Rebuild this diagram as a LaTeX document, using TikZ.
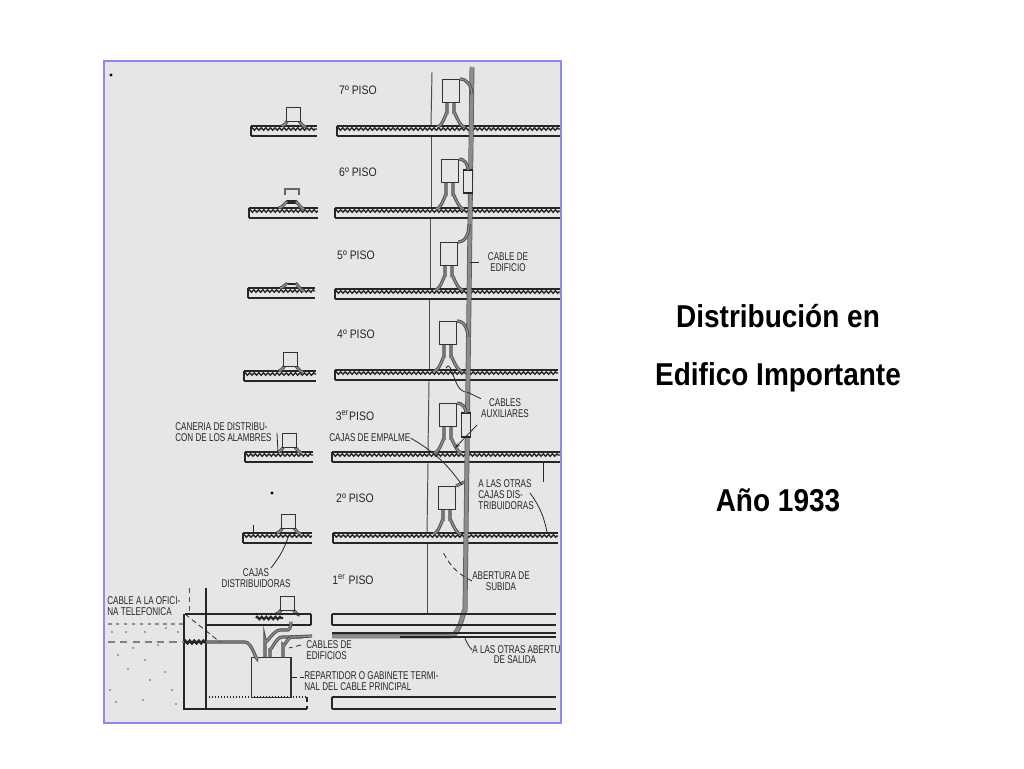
\documentclass[tikz,border=0pt]{standalone}
\usepackage{fontspec}
\usepackage{tikz}
\usetikzlibrary{arrows.meta,decorations.pathmorphing}
\newfontfamily\titlefont[FakeStretch=0.885]{Liberation Sans}
\newfontfamily\planfont[FakeStretch=0.72]{Liberation Sans}
\newfontfamily\pisofont[FakeStretch=0.85]{Liberation Sans}
\definecolor{platebg}{HTML}{E6E6E6}
\definecolor{plateedge}{HTML}{8C8CE6}
\tikzset{
  slabline/.style={black!85,line width=0.9pt},
  slabthin/.style={black!85,line width=0.7pt},
  slabhatch/.style={black!85,line width=0.8pt,decorate,decoration={zigzag,amplitude=0.7pt,segment length=2.6pt}},
  wall/.style={black!70,line width=0.55pt},
  conduit/.style={black!70,line width=0.5pt,double=black!45,double distance=0.8pt},
  riser/.style={black!65,line width=0.4pt,double=black!45,double distance=2pt},
  caja/.style={draw=black!80,fill=platebg,line width=0.6pt,inner sep=0pt,anchor=north west},
  leader/.style={black!85,line width=0.45pt},
  planlabel/.style={font={\planfont\fontsize{6.4}{6.3}\selectfont},text=black!85,inner sep=0pt,align=center},
  pisolabel/.style={font={\pisofont\fontsize{7}{7}\selectfont},text=black!85,inner sep=0pt},
  titlelabel/.style={font={\titlefont\bfseries\fontsize{18}{21}\selectfont},text=black,inner sep=0pt}
}
\newcommand{\slabat}[3]{
  \draw[slabline] (#1,#3) -- (#2,#3);
  \draw[slabhatch] (#1,#3+3) -- (#2,#3+3);
  \draw[slabthin] (#1,#3+10) -- (#2,#3+10);
  \draw[slabthin] (#1,#3) -- (#1,#3+10);
}
\begin{document}
\begin{tikzpicture}[x=0.02cm,y=-0.02cm]
\useasboundingbox (0,0) rectangle (1024,768);
\path[fill=white] (0,0) rectangle (1024,768);
\path[fill=platebg,draw=plateedge,line width=0.7pt] (104,61) rectangle (561,723);
% walls of the shaft
\draw[wall] (432,72) -- (431,125);
\draw[wall] (431,137) -- (431,207);
\draw[wall] (430,218) -- (430,289);
\draw[wall] (429,300) -- (429,370);
\draw[wall] (429,381) -- (428,451);
\draw[wall] (428,463) -- (427,533);
\draw[wall] (427,543) -- (427,614);
% slabs, right then left
\foreach \xa/\xb/\ys in {337/560/126,335/560/208,335/560/289,335/558/370,332/560/452,333/558/533}
  \slabat{\xa}{\xb}{\ys};
\foreach \xa/\xb/\ys in {251/317/126,249/318/208,248/315/288,244/316/371,245/313/452,243/312/533}
  \slabat{\xa}{\xb}{\ys};
% riser cable
\draw[riser] (472,67) -- (465,612) to[out=90,in=0] (450,636) -- (332,636);
% floors: junction box and conduits
\foreach \fl/\bx/\by/\sy in {7/442/79/126,6/441/159/208,5/440/242/289,4/439/321/370,3/439/403/452,2/438/486/533}{
  \draw[conduit] (\bx+5,\by+20) -- (\bx+5,\sy-12) to[out=90,in=0] (\bx-5,\sy+1);
  \draw[conduit] (\bx+12,\by+20) -- (\bx+12,\sy-12) to[out=90,in=180] (\bx+23,\sy+1);
  \node[caja,minimum width=0.34cm,minimum height=0.46cm] (caja\fl) at (\bx,\by) {};
}
\node[caja,minimum width=0.18cm,minimum height=0.44cm] (empalme6) at (463,170) {};
\node[caja,minimum width=0.18cm,minimum height=0.46cm] (empalme3) at (461,413) {};
\draw[slabline,line width=1.3pt] (empalme6.north west) -- (empalme6.north east);
\draw[slabline,line width=1.3pt] (empalme6.south west) -- (empalme6.south east);
\draw[slabline,line width=1.3pt] (empalme3.north west) -- (empalme3.north east);
\draw[slabline,line width=1.3pt] (empalme3.south west) -- (empalme3.south east);
\draw[conduit] (caja7.north east) to[out=0,in=95] ++(12,15);
\draw[conduit] (caja6.north east) to[out=0,in=90] (empalme6.north);
\draw[conduit] (caja5.north east) to[out=0,in=-90] ++(11,-18);
\draw[conduit] (caja4.north east) to[out=0,in=95] ++(11,16);
\draw[conduit] (caja3.north east) to[out=0,in=90] (empalme3.north);
\draw[conduit] (caja2.north east) -- ++(8,-4);
\draw[leader] (446,368) to[out=60,in=170] (465,392);
% distribution boxes on the left
\foreach \fl/\bx/\by/\sy in {7/286/107/126,4/283/352/371,3/282/433/452,2/281/514/533,1/280/596/614}{
  \draw[conduit] (\bx+4,\by+12) to[out=90,in=0] (\bx-4,\sy);
  \draw[conduit] (\bx+10,\by+12) to[out=90,in=180] (\bx+20,\sy+1);
  \node[caja,minimum width=0.27cm,minimum height=0.28cm] (dist\fl) at (\bx,\by) {};
}
\draw[black!60,line width=0.6pt] (285,195) -- (285,189) -- (299,189) -- (299,195);
\draw[slabline,line width=2pt] (287,202) -- (297,202);
\draw[conduit] (287,203) to[out=90,in=0] (279,208);
\draw[conduit] (296,203) to[out=90,in=180] (304,209);
\draw[slabline,line width=1.4pt] (285,284) -- (297,284);
\draw[conduit] (287,285) to[out=90,in=0] (280,288);
\draw[conduit] (296,285) to[out=90,in=180] (304,291);
% ground floor
\draw[slabline] (332,614) -- (556,614);
\draw[slabline] (332,625) -- (556,625);
\draw[slabline] (332,614) -- (332,625);
\draw[slabthin] (332,633) -- (556,633);
\draw[slabline] (400,637) -- (556,637);
\draw[slabline] (332,697) -- (556,697);
\draw[slabline] (332,709) -- (556,709);
\draw[slabthin] (332,697) -- (332,709);
\draw[slabline] (185,614) -- (311,614);
\draw[slabline] (207,625) -- (311,625);
\draw[slabthin] (311,614) -- (311,625);
\draw[slabhatch,line width=1.2pt] (256,618) -- (283,618);
\draw[slabline,line width=1.1pt] (184,614) -- (184,709) -- (307,709);
\draw[slabline] (206,588) -- (206,709);
\draw[wall,densely dashed] (189,588) -- (189,614);
\draw[slabthin,densely dotted] (206,697) -- (307,697);
\draw[slabthin,densely dashed] (307,697) -- (307,709);
\node[caja,fill=none,minimum width=0.8cm,minimum height=0.8cm] (repartidor) at (250.5,657) {};
\draw[conduit] (205,642) -- (245,642) to[out=0,in=-90] (257,657);
\draw[slabhatch,line width=1.5pt] (184,642) -- (206,642);
\draw[conduit] (265,657) -- (265,640) to[out=-90,in=180] (280,630) -- (288,630) to[out=0,in=90] (291,622);
\draw[conduit] (270,657) -- (270,648) to[out=-90,in=180] (282,637) -- (302,637);
\draw[conduit] (283,657) -- (283,645) to[out=-90,in=180] (292,637) -- (312,636);
\draw[black!45,line width=0.6pt,dash pattern=on 2pt off 2.5pt] (108,624) -- (184,624);
\draw[black!50,line width=0.6pt,dash pattern=on 4pt off 3pt] (108,642) -- (184,642);
\foreach \px/\py in {112/632,118/655,128/669,110/690,116/702,133/648,145/660,150/680,143/700,158/645,165/672,172/690,176/704,178/632,166/628,145/632,126/632}
  \fill[black!65] (\px,\py) circle (0.5pt);
\fill[black] (111,75) circle (0.9pt);
\fill[black] (272,493) circle (0.9pt);
% labels
\foreach \fl/\tx/\ty/\tn in {7/358/90/7º PISO,6/358/172/6º PISO,5/356/255/5º PISO,4/356/334/4º PISO,3/355/416/3\textsuperscript{er}PISO,2/355/498/2º PISO,1/353/580/1\textsuperscript{er} PISO}
  \node[pisolabel] (piso\fl) at (\tx,\ty) {\tn};
\node[planlabel] (cableedif) at (508,262) {CABLE DE\\EDIFICIO};
\node[planlabel] (auxiliares) at (505,408.5) {CABLES\\AUXILIARES};
\node[planlabel,align=left,anchor=west] (caneria) at (175,432) {CANERIA DE DISTRIBU-\\CON DE LOS ALAMBRES};
\node[planlabel,anchor=west] (empalme) at (329,438) {CAJAS DE EMPALME};
\node[planlabel,align=left,anchor=west] (otrascajas) at (478,495) {A LAS OTRAS\\CAJAS DIS-\\TRIBUIDORAS};
\node[planlabel] (distribuidoras) at (256,578) {CAJAS\\DISTRIBUIDORAS};
\node[planlabel,align=left,anchor=west] (oficina) at (107,606.5) {CABLE A LA OFICI-\\NA TELEFONICA};
\node[planlabel,align=left,anchor=west] (edificios) at (306,650) {CABLES DE\\EDIFICIOS};
\node[planlabel,align=left,anchor=west] (gabinete) at (304,681.5) {REPARTIDOR O GABINETE TERMI-\\NAL DEL CABLE PRINCIPAL};
\node[planlabel] (subida) at (501,581) {ABERTURA DE\\SUBIDA};
\node[planlabel,anchor=west] (abertura) at (472,650) {A LAS OTRAS ABERTU};
\node[planlabel] (salida) at (515,660) {DE SALIDA};
% leaders
\coordinate (riserpt) at (470,262);
\coordinate (auxup) at (467,392);
\coordinate (auxlow) at (455,448);
\coordinate (empend) at (462,485);
\coordinate (otraend) at (547,532);
\coordinate (otraup) at (543,463);
\coordinate (distend) at (290,532);
\coordinate (canend) at (278,453);
\coordinate (subend) at (443,552);
\coordinate (salend) at (465,638);
\coordinate (ediend) at (289,648);
\coordinate (oficend) at (220,642);
\draw[leader,shorten <=5pt] (cableedif.west) -- (riserpt);
\draw[leader] (auxiliares.north west) -- (auxup);
\draw[leader,-{Stealth[length=3pt,width=2pt]}] (477,425) -- (auxlow);
\draw[leader] (empalme.east) to[bend left=12] (empend);
\draw[leader] (530,493) to[bend left=12] (otraend);
\draw[leader] (543,482) -- (otraup);
\draw[leader] (271,568) to[bend right=10] (distend);
\draw[leader] (277,433) -- (canend);
\draw[leader,densely dashed] (subida.west) to[bend left=18] (subend);
\draw[leader] (abertura.west) to[bend left=10] (salend);
\draw[leader,densely dashed] (edificios.west) ++(-5,-5) -- (ediend);
\draw[leader,densely dashed] (repartidor.east) -- (gabinete.west |- repartidor.east);
\draw[leader,densely dashed] (185,614) -- (oficend);
\draw[leader] (253,525) -- (253,533);
% title
\node[titlelabel] (titulo1) at (778,316) {Distribución en};
\node[titlelabel] (titulo2) at (778,377) {Edifico Importante};
\node[titlelabel] (titulo3) at (778,500) {Año 1933};
\end{tikzpicture}
\end{document}
